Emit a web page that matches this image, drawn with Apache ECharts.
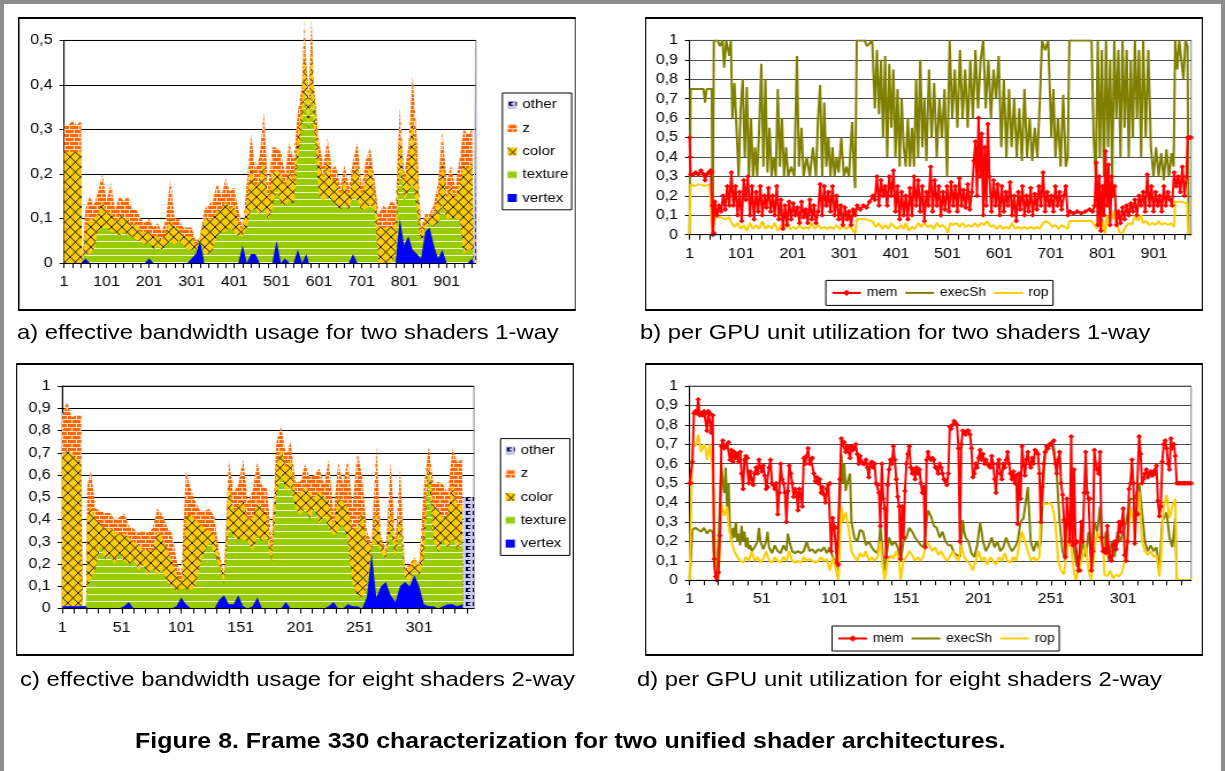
<!DOCTYPE html>
<html><head><meta charset="utf-8">
<script src="https://cdn.jsdelivr.net/npm/echarts/dist/echarts.min.js"></script>
<style>
html,body{margin:0;padding:0;background:#fff;overflow:hidden;}
#frame{position:absolute;left:0;top:0;width:1225px;height:771px;box-sizing:border-box;border-left:4px solid #8c8c8c;border-top:4px solid #8c8c8c;border-right:4px solid #8c8c8c;}
#stage{position:absolute;left:0;top:0;width:1065.2px;height:771px;transform:scaleX(1.15);transform-origin:0 0;}
.box{position:absolute;box-sizing:border-box;border:2px solid #000;border-left-width:1.75px;border-right-width:1.75px;pointer-events:none;}
.chart{position:absolute;}
.cap{position:absolute;font-family:"Liberation Sans",Arial,sans-serif;font-size:20.7px;white-space:nowrap;color:#000;line-height:1;}
.fig{font-weight:bold;font-size:21.7px;}
</style></head>
<body>
<div id="frame"></div>
<div id="stage"></div>
<script>
// ---------------- DATA ----------------
// Panel a: effective bandwidth, two shaders 1-way (frames, stacked layers)
const FRAMES_A = [1,11,21,31,41,43,
51,61,71,81,91,101,111,121,131,141,151,161,171,181,191,201,211,221,231,241,251,261,271,281,291,301,311,321,331,341,351,361,371,381,391,401,411,421,431,441,451,461,471,481,491,501,511,521,531,541,
551,561,566,571,577,583,589,
601,611,621,631,641,651,661,671,681,691,701,711,721,731,741,751,761,771,781,791,801,811,821,831,841,851,861,871,881,891,901,911,921,931,941,951,961,
965];
const VERTEX_A = [0,0,0,0,0,0,
0.01,0,0,0,0, 0,0,0,0,0, 0,0,0,0,0, 0.01,0,0,0,0, 0,0,0,0,0, 0.01,0.02,0.05,0,0, 0,0,0,0,0, 0,0,0.04,0,0.02, 0.02,0,0,0,0, 0.05,0,0.01,0,0,
0.03,0,0,0.02,0,0,0,
0,0,0,0,0, 0,0,0,0.02,0, 0,0,0,0,0, 0,0,0,0,0.1, 0.04,0.06,0.03,0.02,0.01, 0.07,0.08,0.04,0.01,0.03, 0,0,0,0,0, 0,0.01,
0];
const TEXTURE_A = [0,0,0,0,0,0,
0.01,0.02,0.03,0.07,0.08, 0.08,0.07,0.07,0.06,0.07, 0.06,0.06,0.05,0.05,0.04, 0.04,0.03,0.04,0.03,0.04, 0.05,0.04,0.05,0.04,0.03, 0.02,0.01,0,0.02,0.02, 0.03,0.06,0.07,0.07,0.08, 0.07,0.06,0.02,0.08,0.1, 0.1,0.11,0.12,0.1,0.12, 0.12,0.13,0.12,0.14,0.13,
0.2,0.3,0.38,0.36,0.3,0.4,0.3,
0.15,0.14,0.15,0.14,0.13, 0.12,0.13,0.12,0.13,0.14, 0.12,0.12,0.13,0.12,0, 0,0,0,0.02,0.12, 0.1,0.1,0.15,0.1,0.03, 0.01,0.01,0.04,0.08,0.1, 0.1,0.1,0.1,0.1,0.02, 0.03,0.02,
0];
const COLOR_A = [0.25,0.25,0.25,0.25,0.25,0,
0.06,0.08,0.07,0.04,0.06, 0.03,0.05,0.02,0.05,0.03, 0.04,0.02,0.04,0.02,0.03, 0.02,0.03,0.02,0.02,0.03, 0.05,0.04,0.03,0.02,0.03, 0.03,0.01,0.01,0.08,0.08, 0.07,0.06,0.05,0.07,0.04, 0.06,0.03,0.01,0.06,0.1, 0.05,0.08,0.12,0.04,0.08, 0.04,0.07,0.04,0.07,0.05,
0.06,0.06,0.1,0.05,0.05,0.09,0.08,
0.08,0.05,0.09,0.04,0.06, 0.03,0.06,0.03,0.05,0.08, 0.03,0.07,0.09,0.04,0.08, 0.08,0.08,0.08,0.07,0.08, 0.04,0.06,0.15,0.1,0.02, 0.02,0.01,0.03,0.06,0.1, 0.04,0.08,0.04,0.08,0.2, 0.18,0.2,
0];
const Z_A = [0.06,0.06,0.07,0.06,0.07,0,
0.04,0.05,0.03,0.05,0.06, 0.03,0.06,0.03,0.04,0.04, 0.05,0.04,0.03,0.03,0.02, 0.03,0.02,0.03,0.02,0.03, 0.09,0.02,0.02,0.02,0.02, 0.02,0.01,0,0.02,0.03, 0.04,0.06,0.03,0.05,0.04, 0.04,0.03,0.01,0.04,0.07, 0.04,0.05,0.1,0.03,0.06, 0.05,0.05,0.03,0.06,0.05,
0.05,0.04,0.07,0.02,0.03,0.06,0.02,
0.04,0.03,0.04,0.03,0.03, 0.02,0.03,0.02,0.03,0.05, 0.02,0.04,0.04,0.03,0.03, 0.05,0.04,0.06,0.04,0.05, 0.02,0.04,0.09,0.06,0.02, 0.01,0.01,0.02,0.03,0.07, 0.04,0.04,0.03,0.05,0.08, 0.08,0.07,
0];
const OTHER_A_FRAMES = [965, 970];
const OTHER_A = [0.5, 0.5];

// Panel c: effective bandwidth, eight shaders 2-way
const FRAMES_C = [1,5,9,13,17,18,21,22,
25,29,33,37,41,45,49,53,57,61,
65,69,73,77,81,85,89,93,97,101,
105,109,113,117,121,125,129,133,137,141,
145,149,153,157,161,165,169,173,177,181,
185,189,193,197,201,205,209,213,217,221,
225,229,233,237,241,245,249,253,257,261,
265,269,273,277,281,285,289,293,297,301,
305,309,313,317,321,325,329,333,337,
338];
const VERTEX_C = [0.01,0.01,0.01,0.01,0.01,0.01,0.01,0,
0,0,0,0,0,0,0,0.01,0.03,0,
0,0,0,0,0,0,0,0,0.01,0.05,
0.02,0,0,0,0,0,0,0.04,0.06,0.02,
0.02,0.06,0.01,0,0.01,0.05,0,0,0,0,
0,0.03,0,0,0,0,0,0,0,0,
0.01,0.03,0,0,0.02,0.01,0.01,0,0.05,0.25,
0.05,0.1,0.12,0.06,0.03,0.1,0.12,0.1,0.15,0.1,
0.02,0.01,0.01,0,0.01,0.02,0.02,0.01,0.02,
0];
const TEXTURE_C = [0,0,0,0,0,0,0,0.1,
0.13,0.18,0.28,0.22,0.24,0.2,0.25,0.2,0.17,0.22,
0.17,0.2,0.15,0.18,0.15,0.18,0.12,0.1,0.07,0.04,
0.07,0.08,0.1,0.2,0.26,0.3,0.25,0.15,0.05,0.35,
0.3,0.25,0.3,0.3,0.25,0.28,0.3,0.32,0.2,0.5,
0.6,0.5,0.55,0.45,0.42,0.45,0.4,0.45,0.38,0.42,
0.35,0.3,0.35,0.38,0.28,0.1,0.05,0.05,0.05,0.02,
0.25,0.15,0.1,0.3,0.2,0.25,0.02,0.02,0.02,0.05,
0.2,0.6,0.3,0.25,0.3,0.25,0.3,0.25,0.3,
0];
const COLOR_C = [0.68,0.70,0.69,0.67,0.64,0,0,0.3,
0.34,0.22,0.1,0.14,0.12,0.15,0.08,0.13,0.12,0.08,
0.12,0.06,0.12,0.08,0.2,0.14,0.15,0.12,0.08,0.02,
0.33,0.34,0.3,0.18,0.1,0.05,0.08,0.04,0.03,0.2,
0.12,0.15,0.18,0.1,0.15,0.15,0.15,0.1,0.05,0.15,
0.12,0.1,0.12,0.07,0.1,0.1,0.12,0.05,0.15,0.08,
0.12,0.05,0.15,0.1,0.15,0.25,0.3,0.4,0.2,0.01,
0.15,0.05,0.03,0.1,0.05,0.08,0.03,0.06,0.05,0.04,
0.15,0.05,0.15,0.2,0.1,0.15,0.25,0.2,0.15,
0];
const Z_C = [0.18,0.22,0.16,0.19,0.22,0,0,0.15,
0.15,0.05,0.06,0.07,0.07,0.05,0.08,0.09,0.05,0.06,
0.05,0.09,0.07,0.1,0.1,0.1,0.1,0.12,0.06,0.04,
0.2,0.12,0.08,0.06,0.08,0.1,0.08,0.02,0.02,0.1,
0.08,0.1,0.18,0.08,0.12,0.18,0.1,0.12,0.05,0.1,
0.1,0.06,0.08,0.05,0.05,0.1,0.07,0.1,0.1,0.06,
0.19,0.05,0.16,0.08,0.22,0.1,0.34,0.15,0.05,0.01,
0.28,0.02,0.02,0.2,0.02,0.2,0.01,0.02,0.01,0.01,
0.18,0.07,0.1,0.12,0.15,0.1,0.15,0.2,0.2,
0];
const OTHER_C_FRAMES = [338, 347];
const OTHER_C = [0.5, 0.5];

// Panel b: per GPU unit utilization, two shaders 1-way  ([frame, value])
const MEM_B = [[1,0.5],[2,0.4],[3,0.31],[8,0.31],[13,0.32],[18,0.31],[23,0.33],[28,0.31],[31,0.28],[34,0.31],[38,0.32],[42,0.33],[44,0.32],[45,0.15],[46,0],[48,0.01],[50,0.17],[54,0.1],[58,0.15],[62,0.12],[66,0.2],[70,0.13],[74,0.25],[78,0.15],[82,0.32],[86,0.15],[90,0.25],[94,0.1],[98,0.22],[102,0.07],[106,0.28],[110,0.18],[114,0.3],[118,0.1],[122,0.25],[126,0.08],[130,0.22],[134,0.12],[138,0.25],[142,0.1],[146,0.2],[150,0.14],[154,0.24],[158,0.12],[162,0.2],[166,0.1],[170,0.25],[174,0.08],[178,0.18],[182,0.03],[186,0.15],[190,0.05],[194,0.17],[198,0.08],[202,0.16],[206,0.1],[210,0.14],[214,0.06],[218,0.17],[222,0.09],[226,0.13],[230,0.06],[234,0.18],[238,0.08],[242,0.15],[246,0.06],[250,0.12],[254,0.26],[258,0.1],[262,0.25],[266,0.15],[270,0.22],[274,0.12],[278,0.25],[282,0.1],[286,0.2],[290,0.08],[294,0.15],[298,0.05],[302,0.14],[306,0.08],[310,0.12],[314,0.05],[318,0.13],[322,0.1],[326,0.15],[332,0.13],[338,0.15],[344,0.14],[350,0.17],[356,0.2],[360,0.18],[364,0.3],[368,0.15],[372,0.28],[376,0.2],[380,0.25],[384,0.15],[388,0.3],[392,0.2],[396,0.33],[400,0.12],[404,0.25],[408,0.08],[412,0.22],[416,0.1],[420,0.2],[424,0.08],[428,0.24],[432,0.1],[436,0.3],[440,0.15],[444,0.28],[448,0.12],[452,0.25],[456,0.07],[460,0.22],[464,0.15],[468,0.35],[472,0.12],[476,0.28],[480,0.15],[484,0.25],[488,0.1],[492,0.22],[496,0.13],[500,0.25],[504,0.12],[508,0.27],[512,0.15],[516,0.25],[520,0.12],[524,0.29],[528,0.15],[532,0.23],[536,0.14],[540,0.26],[544,0.13],[548,0.22],[552,0.38],[555,0.48],[558,0.2],[561,0.6],[564,0.3],[567,0.52],[570,0.1],[573,0.45],[576,0.15],[579,0.57],[582,0.3],[586,0.12],[590,0.28],[594,0.15],[598,0.26],[602,0.1],[606,0.25],[610,0.12],[614,0.22],[618,0.15],[622,0.27],[626,0.1],[630,0.2],[634,0.07],[638,0.22],[642,0.13],[646,0.25],[650,0.1],[654,0.2],[658,0.12],[662,0.24],[666,0.1],[670,0.21],[674,0.13],[678,0.25],[682,0.15],[686,0.32],[690,0.12],[694,0.22],[698,0.15],[702,0.2],[706,0.12],[710,0.25],[714,0.15],[718,0.22],[722,0.13],[726,0.2],[730,0.25],[734,0.1],[738,0.12],[745,0.11],[752,0.12],[760,0.11],[768,0.12],[776,0.13],[782,0.12],[786,0.15],[789,0.37],[792,0.05],[795,0.3],[798,0.02],[801,0.25],[804,0.1],[807,0.43],[810,0.15],[813,0.36],[816,0.05],[819,0.3],[822,0.2],[825,0.25],[828,0.05],[832,0.12],[836,0.06],[840,0.14],[844,0.08],[848,0.15],[852,0.1],[856,0.16],[860,0.12],[864,0.18],[868,0.1],[872,0.2],[876,0.15],[880,0.22],[884,0.12],[888,0.31],[892,0.15],[896,0.25],[900,0.12],[904,0.22],[908,0.15],[912,0.2],[916,0.12],[920,0.25],[924,0.15],[928,0.22],[932,0.18],[936,0.15],[940,0.32],[944,0.25],[948,0.3],[952,0.22],[956,0.35],[960,0.2],[964,0.3],[966,0.5],[970,0.5],[973,0.5]];
const EXEC_B = [[1,0],[3,0.75],[11,0.75],[21,0.75],[28,0.75],[31,0.68],[34,0.75],[44,0.75],[46,0.02],[48,1],[55,1],[60,0.97],[65,1],[68,0.86],[72,1],[78,0.92],[81,1],[84,0.6],[88,0.78],[92,0.55],[96,0.3],[100,0.65],[104,0.8],[108,0.4],[112,0.76],[116,0.3],[120,0.6],[124,0.3],[128,0.45],[132,0.3],[136,0.55],[140,0.88],[144,0.35],[148,0.8],[152,0.32],[156,0.55],[160,0.3],[164,0.4],[168,0.3],[172,0.75],[176,0.35],[180,0.6],[184,0.3],[188,0.45],[192,0.3],[198,0.35],[204,0.3],[209,0.92],[213,0.35],[218,0.55],[222,0.3],[228,0.4],[234,0.3],[240,0.45],[246,0.3],[250,0.6],[254,0.77],[258,0.3],[262,0.68],[266,0.35],[270,0.5],[274,0.3],[278,0.45],[282,0.3],[286,0.4],[290,0.32],[295,0.5],[300,0.3],[305,0.35],[310,0.3],[316,0.58],[320,0.3],[322,0.24],[325,1],[340,1],[345,0.97],[355,1],[360,0.65],[364,0.95],[368,0.62],[372,0.9],[376,0.5],[380,0.92],[384,0.4],[388,0.88],[392,0.55],[396,0.85],[400,0.4],[404,0.75],[408,0.35],[412,0.7],[416,0.45],[420,0.35],[424,0.6],[428,0.35],[432,0.55],[436,0.35],[440,0.8],[444,0.4],[448,0.9],[452,0.45],[456,0.7],[460,0.38],[465,0.85],[470,0.5],[475,0.78],[480,0.4],[485,0.7],[490,0.5],[495,0.75],[500,0.3],[505,1],[510,0.6],[515,0.85],[520,0.55],[525,0.95],[530,0.6],[535,0.85],[540,0.55],[545,0.9],[550,0.6],[555,0.95],[560,0.65],[565,0.9],[570,1],[575,0.65],[580,0.9],[585,0.6],[590,0.85],[595,0.7],[600,0.92],[605,0.45],[610,0.8],[615,0.4],[620,0.75],[625,0.45],[630,0.7],[635,0.4],[640,0.65],[645,0.38],[650,0.75],[655,0.4],[660,0.6],[665,0.38],[670,0.55],[675,0.4],[680,0.7],[684,1],[690,0.95],[696,1],[702,0.5],[706,0.75],[710,0.4],[715,0.6],[720,0.35],[725,0.72],[730,0.35],[734,0.4],[737,1],[780,1],[784,0.5],[788,0.3],[792,1],[796,0.4],[800,0.95],[804,0.3],[808,1],[812,0.45],[816,0.9],[820,0.3],[824,1],[828,0.6],[832,0.95],[836,0.4],[840,1],[844,0.55],[848,0.95],[852,0.4],[856,0.9],[860,0.5],[864,1],[868,0.6],[872,0.95],[876,0.4],[880,1],[885,0.5],[890,0.95],[895,0.45],[900,0.3],[905,0.45],[910,0.3],[915,0.42],[920,0.28],[925,0.44],[930,0.3],[935,0.42],[939,0.35],[942,1],[946,0.85],[950,1],[954,0.9],[958,0.8],[962,1],[966,0.97],[968,0],[973,0]];
const ROP_B = [[1,0],[3,0.26],[10,0.25],[20,0.26],[30,0.25],[40,0.26],[44,0.26],[45,0],[48,0],[50,0.09],[60,0.09],[70,0.08],[78,0.09],[82,0.06],[88,0.04],[94,0.06],[100,0.03],[106,0.05],[112,0.02],[118,0.06],[124,0.03],[130,0.05],[136,0.03],[142,0.07],[148,0.03],[154,0.05],[160,0.03],[166,0.06],[172,0.02],[178,0.05],[184,0.03],[190,0.06],[196,0.03],[202,0.04],[208,0.03],[214,0.05],[220,0.03],[226,0.04],[232,0.03],[238,0.06],[244,0.03],[250,0.05],[256,0.03],[262,0.04],[268,0.03],[274,0.04],[280,0.03],[286,0.05],[292,0.03],[298,0.04],[304,0.03],[310,0.04],[316,0.03],[320,0.02],[322,0],[325,0.08],[340,0.08],[355,0.07],[362,0.04],[368,0.06],[374,0.03],[380,0.05],[386,0.03],[392,0.06],[398,0.04],[404,0.03],[410,0.05],[416,0.03],[420,0.06],[426,0.02],[432,0.04],[438,0.03],[444,0.06],[450,0.04],[456,0.06],[462,0.04],[468,0.05],[474,0.03],[480,0.06],[486,0.04],[492,0.05],[498,0.03],[502,0.01],[506,0.06],[512,0.05],[518,0.06],[524,0.04],[530,0.06],[536,0.04],[542,0.05],[548,0.04],[554,0.06],[560,0.04],[566,0.06],[572,0.05],[578,0.07],[584,0.04],[590,0.05],[596,0.03],[602,0.05],[608,0.03],[614,0.04],[620,0.03],[626,0.06],[632,0.03],[638,0.04],[644,0.03],[650,0.04],[656,0.03],[662,0.04],[668,0.03],[674,0.04],[680,0.03],[686,0.06],[692,0.07],[698,0.06],[704,0.04],[710,0.05],[716,0.03],[722,0.05],[728,0.04],[734,0.03],[737,0.07],[780,0.07],[786,0.05],[790,0.03],[794,0.12],[798,0.02],[802,0.08],[806,0],[810,0.1],[814,0.05],[818,0.12],[822,0.08],[826,0.13],[830,0.05],[834,0.01],[840,0.01],[846,0.04],[852,0.06],[858,0.05],[864,0.1],[870,0.07],[876,0.1],[880,0.06],[886,0.07],[892,0.05],[898,0.06],[904,0.05],[910,0.07],[916,0.05],[922,0.06],[928,0.05],[934,0.06],[940,0.04],[942,0.17],[955,0.17],[965,0.16],[967,0],[973,0]];

// Panel d: per GPU unit utilization, eight shaders 2-way
const MEM_D = [0.5,0.5,0.61,0.86,0.87,0.86,0.93,0.85,0.86,0.85,
0.87,0.86,0.77,0.87,0.86,0.76,0.85,0.11,0.02,0,
0.04,0.23,0.69,0.72,0.68,0.69,0.7,0.71,0.62,0.67,
0.61,0.66,0.63,0.65,0.61,0.66,0.55,0.47,0.62,0.64,
0.63,0.5,0.56,0.52,0.49,0.55,0.58,0.55,0.62,0.58,
0.56,0.59,0.54,0.47,0.48,0.58,0.62,0.5,0.49,0.47,
0.5,0.34,0.45,0.6,0.52,0.5,0.45,0.3,0.46,0.59,
0.55,0.5,0.43,0.47,0.45,0.36,0.47,0.44,0.38,0.63,
0.6,0.64,0.68,0.6,0.62,0.63,0.55,0.51,0.53,0.5,
0.52,0.45,0.48,0.44,0.4,0.47,0.49,0.5,0.15,0.32,
0.28,0.27,0.09,0.08,0.52,0.73,0.7,0.71,0.66,0.69,
0.68,0.63,0.69,0.67,0.68,0.7,0.65,0.6,0.64,0.61,
0.6,0.6,0.62,0.58,0.53,0.6,0.61,0.58,0.6,0.5,
0.49,0.45,0.28,0.6,0.42,0.37,0.12,0.49,0.57,0.62,
0.6,0.69,0.62,0.52,0.43,0.38,0.11,0.38,0.22,0.46,
0.6,0.65,0.69,0.58,0.55,0.57,0.52,0.58,0.55,0.57,
0.5,0.45,0.48,0.17,0.62,0.66,0.63,0.62,0.63,0.62,
0.58,0.58,0.55,0.6,0.58,0.55,0.52,0.51,0.49,0.55,
0.79,0.78,0.8,0.82,0.81,0.8,0.68,0.2,0.7,0.77,
0.76,0.75,0.77,0.77,0.75,0.68,0.53,0.55,0.6,0.58,
0.63,0.67,0.62,0.65,0.6,0.62,0.6,0.59,0.58,0.64,
0.6,0.52,0.45,0.6,0.62,0.55,0.52,0.6,0.58,0.62,
0.66,0.6,0.55,0.52,0.56,0.5,0.54,0.29,0.55,0.42,
0.69,0.6,0.54,0.62,0.66,0.6,0.58,0.63,0.6,0.67,
0.66,0.65,0.55,0.3,0.48,0.6,0.66,0.69,0.68,0.7,
0.7,0.71,0.72,0.6,0.55,0.62,0.66,0.5,0.44,0.31,
0.12,0.42,0.3,0.2,0.74,0.18,0.57,0.19,0.2,0.05,
0.05,0.3,0.2,0.45,0.66,0.45,0.42,0.42,0.05,0.15,
0.67,0.6,0.57,0.55,0.66,0.22,0.15,0.16,0.14,0.28,
0.15,0.12,0.1,0.18,0.2,0.16,0.2,0.3,0.25,0.3,
0.37,0.13,0.1,0.2,0.47,0.5,0.62,0.5,0.19,0.35,
0.34,0.74,0.65,0.5,0.52,0.55,0.57,0.53,0.55,0.56,
0.54,0.56,0.55,0.59,0.41,0.33,0.38,0.61,0.7,0.72,
0.68,0.6,0.57,0.73,0.68,0.7,0.64,0.5,0.5,0.5,
0.5,0.5,0.5,0.5,0.5,0.5,0.5,0.5];
const EXEC_D = [[1,0],[3,0.26],[5,0.27],[7,0.26],[9,0.25],[11,0.27],[13,0.24],[15,0.26],[17,0.25],[18,0.1],[19,0.01],[20,0.01],[21,0.2],[23,0.6],[24,0.5],[25,0.45],[26,0.58],[27,0.35],[28,0.5],[29,0.25],[30,0.2],[31,0.27],[32,0.22],[33,0.3],[34,0.2],[35,0.24],[36,0.18],[37,0.28],[38,0.2],[39,0.25],[40,0.17],[41,0.22],[42,0.16],[43,0.18],[44,0.15],[46,0.17],[48,0.2],[49,0.27],[50,0.2],[52,0.16],[54,0.2],[55,0.25],[56,0.17],[58,0.14],[60,0.18],[62,0.15],[64,0.14],[66,0.18],[68,0.15],[69,0.24],[70,0.2],[72,0.15],[74,0.14],[76,0.15],[78,0.14],[80,0.15],[82,0.2],[84,0.15],[86,0.16],[88,0.14],[90,0.16],[92,0.15],[94,0.17],[96,0.14],[98,0.17],[100,0.12],[102,0.1],[104,0.05],[105,0.4],[106,0.65],[107,0.5],[108,0.6],[109,0.46],[110,0.5],[112,0.55],[113,0.3],[115,0.22],[117,0.2],[119,0.26],[121,0.25],[123,0.18],[125,0.2],[127,0.17],[129,0.15],[131,0.14],[132,0.18],[133,0.28],[135,0.1],[136,0.05],[137,0.12],[139,0.22],[141,0.18],[143,0.2],[145,0.17],[147,0.1],[149,0.2],[151,0.22],[153,0.27],[155,0.25],[157,0.22],[159,0.2],[161,0.18],[163,0.17],[165,0.3],[166,0.36],[168,0.33],[170,0.28],[172,0.27],[174,0.22],[176,0.25],[178,0.2],[180,0.18],[182,0.18],[184,0.14],[186,0.13],[188,0.12],[190,0.31],[191,0.25],[192,0.22],[194,0.2],[196,0.14],[198,0.12],[200,0.18],[202,0.3],[204,0.2],[206,0.15],[208,0.18],[210,0.22],[212,0.17],[214,0.2],[216,0.15],[218,0.17],[220,0.22],[222,0.18],[224,0.15],[226,0.17],[228,0.2],[230,0.3],[232,0.32],[235,0.48],[237,0.2],[239,0.15],[241,0.2],[243,0.16],[244,0.2],[245,0.4],[247,0.65],[249,0.68],[251,0.7],[253,0.68],[255,0.55],[257,0.3],[259,0.15],[261,0.1],[263,0.2],[265,0.3],[267,0.15],[269,0.07],[271,0.1],[273,0.2],[275,0.12],[277,0.25],[279,0.1],[281,0.3],[283,0.25],[285,0.38],[287,0.15],[289,0.25],[291,0.1],[293,0.2],[295,0.12],[297,0.25],[299,0.2],[301,0.25],[303,0.3],[306,0.42],[309,0.42],[312,0.5],[314,0.35],[316,0.2],[318,0.15],[320,0.18],[322,0.15],[324,0.17],[326,0.05],[328,0.3],[331,0.35],[333,0.22],[335,0.17],[337,0.32],[338,0],[348,0]];
const ROP_D = [[1,0],[2,0.35],[3,0.7],[5,0.69],[7,0.75],[9,0.66],[11,0.7],[12,0.68],[13,0.62],[15,0.7],[17,0.56],[18,0.3],[19,0],[21,0],[22,0.2],[23,0.4],[25,0.33],[27,0.38],[28,0.28],[30,0.2],[32,0.15],[34,0.12],[36,0.1],[38,0.09],[40,0.12],[42,0.1],[44,0.15],[46,0.1],[48,0.12],[50,0.09],[52,0.11],[54,0.15],[56,0.1],[58,0.09],[60,0.12],[62,0.1],[64,0.09],[66,0.12],[68,0.1],[70,0.15],[72,0.1],[74,0.09],[76,0.1],[78,0.09],[80,0.12],[82,0.1],[84,0.11],[86,0.1],[88,0.09],[90,0.1],[92,0.12],[94,0.1],[96,0.11],[98,0.05],[100,0.12],[102,0.06],[104,0],[105,0.2],[106,0.38],[107,0.3],[109,0.35],[111,0.27],[113,0.15],[115,0.12],[117,0.1],[119,0.14],[121,0.12],[123,0.15],[125,0.1],[127,0.12],[129,0.1],[131,0.12],[133,0.2],[135,0.05],[136,0],[138,0.1],[140,0.13],[142,0.11],[144,0.15],[146,0.1],[147,0],[149,0.1],[151,0.12],[153,0.15],[155,0.13],[157,0.1],[159,0.12],[161,0.1],[163,0.13],[165,0.2],[167,0.18],[169,0.15],[171,0.17],[173,0.13],[175,0.15],[177,0.12],[179,0.1],[181,0.12],[183,0.15],[185,0.12],[187,0.1],[189,0.18],[191,0.12],[193,0.1],[195,0.08],[197,0.05],[199,0.1],[201,0.15],[203,0.1],[205,0.12],[207,0.08],[209,0.12],[211,0.1],[213,0.08],[215,0.12],[217,0.1],[219,0.14],[221,0.1],[223,0.09],[225,0.12],[227,0.1],[229,0.18],[231,0.25],[233,0.2],[235,0.15],[237,0.1],[239,0.12],[241,0.1],[243,0.12],[244,0.38],[246,0.4],[248,0.39],[250,0.4],[252,0.38],[254,0.3],[256,0.1],[258,0.05],[260,0.03],[262,0.15],[264,0.25],[266,0.1],[268,0],[270,0.05],[272,0.1],[274,0.15],[275,0.18],[277,0.05],[279,0],[281,0.15],[283,0.25],[285,0.2],[287,0.22],[288,0.03],[290,0.02],[292,0.05],[294,0.01],[296,0.03],[298,0.02],[300,0.04],[302,0.1],[304,0.2],[306,0.38],[308,0.3],[310,0.35],[312,0.45],[314,0.2],[316,0.15],[318,0.13],[320,0.15],[322,0.12],[324,0.13],[326,0.02],[327,0.1],[329,0.38],[331,0.44],[333,0.32],[335,0.38],[337,0.42],[338,0],[348,0]];

const LAYER_NAMES = ['vertex','texture','color','z'];
const LEGEND_STACK = ['other','z','color','texture','vertex'];
const LEGEND_LINES = ['mem','execSh','rop'];
const CAPTIONS = [
  'a) effective bandwidth usage for two shaders 1-way',
  'b) per GPU unit utilization for two shaders 1-way',
  'c) effective bandwidth usage for eight shaders 2-way',
  'd) per GPU unit utilization for eight shaders 2-way'
];
const FIG_TITLE = 'Figure 8. Frame 330 characterization for two unified shader architectures.';

// ---------------- STYLE / LAYOUT ----------------
const K = 1.15;
const FONT = '"Liberation Sans", Arial, sans-serif';
const stage = document.getElementById('stage');

function pat(w, h, draw) {
  const c = document.createElement('canvas'); c.width = w; c.height = h;
  const g = c.getContext('2d'); draw(g, w, h);
  return { image: c, repeat: 'repeat' };
}
const FILL = {
  vertex: '#0000ff',
  texture: pat(8, 7, (g, w, h) => { g.fillStyle = '#99cc00'; g.fillRect(0, 0, w, h); g.fillStyle = '#eef7d6'; g.fillRect(0, 0, w, 1); }),
  color: pat(9, 10, (g, w, h) => { g.fillStyle = '#ffcc00'; g.fillRect(0, 0, w, h); g.strokeStyle = '#222'; g.lineWidth = 1; g.beginPath(); g.moveTo(0, 0); g.lineTo(w, h); g.moveTo(w, 0); g.lineTo(0, h); g.stroke(); }),
  z: pat(8, 8, (g, w, h) => { g.fillStyle = '#ff6600'; g.fillRect(0, 0, w, h); g.fillStyle = '#ffe0c8'; g.fillRect(0, 0, w, 1); g.fillRect(0, 4, w, 1); g.fillRect(0, 0, 1, 4); g.fillRect(4, 4, 1, 4); }),
  other: pat(6, 7, (g, w, h) => { g.fillStyle = '#c8c8f0'; g.fillRect(0, 0, w, h); g.fillStyle = '#000033'; g.fillRect(1, 1, 4, 4); g.fillStyle = '#c8c8f0'; g.fillRect(3, 2, 2, 2); })
};
const LINE_COL = { mem: '#ff0000', execSh: '#808000', rop: '#ffcc00' };

function fmtY(v) { return String(Math.round(v * 10) / 10).replace('.', ','); }

function makePanel(box) {
  const d = document.createElement('div');
  d.className = 'chart';
  d.style.left = (box[0] / K) + 'px'; d.style.top = box[1] + 'px';
  d.style.width = ((box[2] - box[0]) / K) + 'px'; d.style.height = (box[3] - box[1]) + 'px';
  stage.appendChild(d);
  const b = document.createElement('div');
  b.className = 'box';
  b.style.left = (box[0] / K) + 'px'; b.style.top = box[1] + 'px';
  b.style.width = ((box[2] - box[0]) / K) + 'px'; b.style.height = (box[3] - box[1]) + 'px';
  stage.appendChild(b);
  return echarts.init(d, null, { renderer: 'canvas' });
}

function gridOf(box, plot) {
  return {
    left: (plot[0] - box[0]) / K, top: plot[1] - box[1],
    width: (plot[2] - plot[0]) / K, height: plot[3] - plot[1],
    show: true, borderColor: '#808080', borderWidth: 1, backgroundColor: 'transparent',
    containLabel: false, outerBoundsMode: 'none'
  };
}

function axes(xMax, tick, labelStep, yMax, splitColor, xMargin) {
  return {
    xAxis: {
      type: 'value', min: 0, max: xMax, interval: tick, z: 10,
      axisLine: { show: true, onZero: false, lineStyle: { color: '#000', width: 1 } },
      axisTick: { show: true, inside: false, length: 5, lineStyle: { color: '#000' } },
      axisLabel: { show: true, color: '#000', fontSize: 14, fontFamily: FONT, margin: xMargin,
        showMaxLabel: false, showMinLabel: true,
        formatter: v => (Math.round(v) % labelStep === 0 ? String(Math.round(v) + 1) : '') },
      splitLine: { show: false }, minorTick: { show: false }
    },
    yAxis: {
      type: 'value', min: 0, max: yMax, interval: 0.1,
      axisLine: { show: true, lineStyle: { color: '#000', width: 1 } },
      axisTick: { show: true, inside: false, length: 4, lineStyle: { color: '#000' } },
      axisLabel: { show: true, color: '#000', fontSize: 14, fontFamily: FONT, margin: 10, formatter: fmtY },
      splitLine: { show: true, lineStyle: { color: splitColor, width: 1 } }
    }
  };
}

function stackedPanel(box, plot, leg, frames, layers, otherFrames, otherVals, xMax, tick, labelStep, yMax, xMargin) {
  const chart = makePanel(box);
  // cumulative tops of each layer (vertex at the bottom, z on top)
  const tops = [];
  let acc = frames.map(() => 0);
  layers.forEach(L => { acc = acc.map((a, i) => Math.round((a + L[i]) * 1000) / 1000); tops.push(acc); });
  const series = [];
  for (let k = LAYER_NAMES.length - 1; k >= 0; k--) {
    const n = LAYER_NAMES[k];
    series.push({
      name: n, type: 'line', symbol: 'none', showSymbol: false, clip: false,
      lineStyle: { width: 0, opacity: 0 }, areaStyle: { color: FILL[n], opacity: 1, origin: 'start' },
      itemStyle: { color: FILL[n] }, emphasis: { disabled: true }, silent: true,
      data: frames.map((f, i) => [f - 1, tops[k][i]])
    });
  }
  series.push({
    name: 'other', type: 'line', symbol: 'none', showSymbol: false,
    lineStyle: { width: 0, opacity: 0 }, areaStyle: { color: FILL.other, opacity: 1, origin: 'start' },
    itemStyle: { color: FILL.other }, emphasis: { disabled: true }, silent: true,
    data: otherFrames.map((f, i) => [f - 1, otherVals[i]])
  });
  const ax = axes(xMax, tick, labelStep, yMax, '#000', xMargin);
  chart.setOption({
    animation: false,
    textStyle: { fontFamily: FONT, color: '#000' },
    grid: gridOf(box, plot),
    xAxis: ax.xAxis, yAxis: ax.yAxis,
    legend: {
      orient: 'vertical', left: (leg[0] - box[0]) / K, top: leg[1] - box[1],
      data: LEGEND_STACK.map(n => ({ name: n, icon: 'rect', itemStyle: { color: FILL[n], borderWidth: 0 } })),
      itemWidth: 8, itemHeight: 8, itemGap: 10.3,
      padding: [5.3, 3, 5.3, 4.5],
      borderColor: '#000', borderWidth: 1, backgroundColor: '#fff', borderRadius: 0,
      textStyle: { fontSize: 13, color: '#000', fontFamily: FONT },
      selectedMode: false
    },
    series: series
  });
}

function linePanel(box, plot, leg, mem, exec, rop, xMax, tick, labelStep, xMargin) {
  const chart = makePanel(box);
  const ax = axes(xMax, tick, labelStep, 1, '#4d4d4d', xMargin);
  const mk = (name, pts, z, sym) => ({
    name: name, type: 'line', z: z, data: pts,
    symbol: sym ? 'diamond' : 'none', symbolSize: 5, showSymbol: !!sym, showAllSymbol: true,
    lineStyle: { color: LINE_COL[name], width: 2 }, itemStyle: { color: LINE_COL[name] },
    emphasis: { disabled: true }, silent: true
  });
  chart.setOption({
    animation: false,
    textStyle: { fontFamily: FONT, color: '#000' },
    grid: gridOf(box, plot),
    xAxis: ax.xAxis, yAxis: ax.yAxis,
    legend: {
      orient: 'horizontal', left: (leg[0] - box[0]) / K, top: leg[1] - box[1],
      data: LEGEND_LINES.map(n => (n === 'mem' ? { name: n } : { name: n, itemStyle: { opacity: 0 } })),
      itemWidth: 25, itemHeight: 8, itemGap: 6,
      padding: [6.5, 4, 6.5, 4.5],
      borderColor: '#000', borderWidth: 1, backgroundColor: '#fff', borderRadius: 0,
      textStyle: { fontSize: 12, color: '#000', fontFamily: FONT },
      selectedMode: false
    },
    series: [
      mk('execSh', exec.map(p => [p[0] - 1, p[1]]), 2, false),
      mk('rop', rop.map(p => [p[0] - 1, p[1]]), 3, false),
      mk('mem', mem, 4, true)
    ]
  });
}

// page-coordinate layout: [x0, y0, x1, y1]
stackedPanel([18.7, 17.3, 576, 310.7], [64.4, 40.7, 476.2, 263.3], [502.7, 93.3, 571.4, 211],
  FRAMES_A, [VERTEX_A, TEXTURE_A, COLOR_A, Z_A], OTHER_A_FRAMES, OTHER_A, 969, 20, 100, 0.5, 12.5);
linePanel([645.6, 17.3, 1203.3, 310.7], [690, 40.7, 1191.6, 235], [826.3, 280.7, 1053.8, 306],
  MEM_B.map(p => [p[0] - 1, p[1]]), EXEC_B, ROP_B, 972, 20, 100, 12);
stackedPanel([16.4, 362.7, 573.8, 655.7], [62.5, 385.7, 474.2, 608.3], [500.8, 438.3, 569.1, 556],
  FRAMES_C, [VERTEX_C, TEXTURE_C, COLOR_C, Z_C], OTHER_C_FRAMES, OTHER_C, 346, 10, 50, 1, 12.5);
linePanel([645.6, 362.7, 1203.3, 655.7], [690, 385.7, 1191.6, 580], [832.5, 625.7, 1049.2, 650.7],
  MEM_D.map((v, i) => [i, v]), EXEC_D, ROP_D, 347, 10, 50, 11.5);

// captions
const CAP_POS = [[17, 321.5], [640, 321.5], [20, 668.5], [637, 668.5]];
CAPTIONS.forEach((t, i) => {
  const d = document.createElement('div');
  d.className = 'cap'; d.textContent = t;
  d.style.left = (CAP_POS[i][0] / K) + 'px'; d.style.top = CAP_POS[i][1] + 'px';
  stage.appendChild(d);
});
const f = document.createElement('div');
f.className = 'cap fig'; f.textContent = FIG_TITLE;
f.style.left = (135 / K) + 'px'; f.style.top = '730px';
stage.appendChild(f);
</script>
</body></html>
